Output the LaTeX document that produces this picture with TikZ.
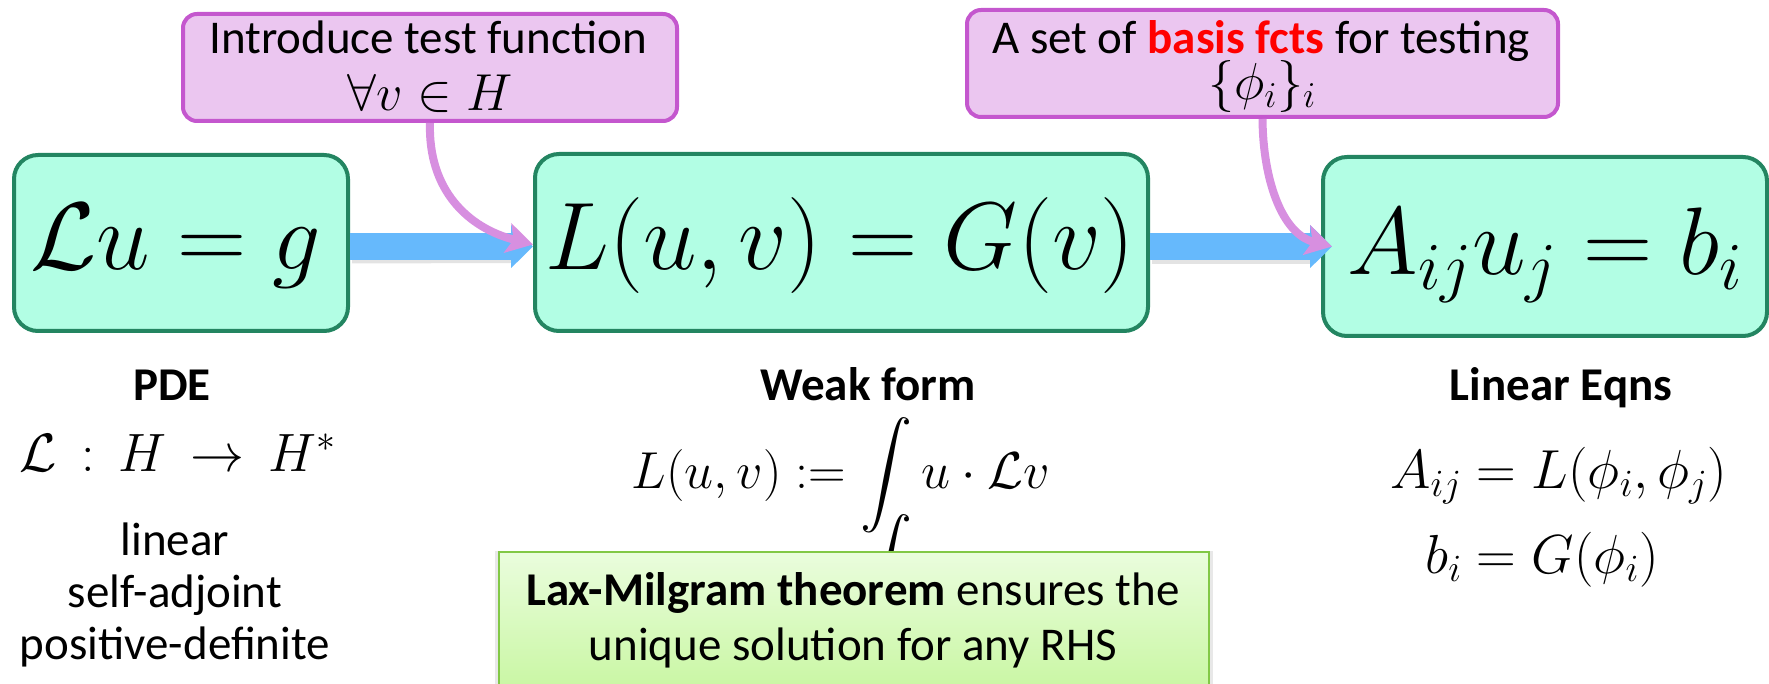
\RequirePackage{fix-cm}
\documentclass[tikz,border=0pt]{standalone}
\usepackage{amsmath}
\usepackage[no-math]{fontspec}
\setmainfont{Carlito}
\DeclareFontShape{OMX}{cmex}{m}{n}{<->cmex10}{}
\usetikzlibrary{arrows.meta,shadows}
\definecolor{greenfill}{RGB}{178,254,228}
\definecolor{greenborder}{RGB}{35,133,97}
\definecolor{purplefill}{RGB}{235,198,240}
\definecolor{purpleborder}{RGB}{196,87,206}
\definecolor{flowblue}{RGB}{102,185,252}
\definecolor{hintpink}{RGB}{215,143,224}
\definecolor{basisred}{RGB}{255,0,0}
\definecolor{lmtop}{RGB}{234,253,221}
\definecolor{lmbottom}{RGB}{198,246,158}
\definecolor{lmborder}{RGB}{130,200,70}
\begin{document}
\begin{tikzpicture}[x=1pt,y=-1pt,
  gbox/.style={draw=greenborder,fill=greenfill,line width=4pt,rounded corners=24pt,inner sep=0pt},
  pbox/.style={draw=purpleborder,fill=purplefill,line width=4pt,rounded corners=14pt,inner sep=0pt},
  txt/.style={inner sep=0pt,font=\fontsize{47}{54}\selectfont},
  head/.style={inner sep=0pt,font=\fontsize{47}{54}\selectfont\bfseries},
  bigmath/.style={inner sep=0pt,font=\fontsize{96}{100}\selectfont},
  midmath/.style={inner sep=0pt,font=\fontsize{52}{60}\selectfont},
  eqmath/.style={inner sep=0pt,font=\fontsize{55}{60}\selectfont},
  flow/.style={draw=flowblue,line width=27pt,-{Triangle[length=22pt,width=42pt]}},
  flowshadow/.style={draw=black,opacity=.11,line width=27pt},
  hint/.style={draw=hintpink,line width=8pt,-{Stealth[length=26pt,width=30pt,inset=6pt]}},
  lmbox/.style={draw=lmborder,line width=2pt,top color=lmtop,bottom color=lmbottom,inner sep=0pt,
    drop shadow={opacity=.18,shadow xshift=0pt,shadow yshift=0pt,shadow scale=1.012}},
]
\clip (0,0) rectangle (1769,684);

% main boxes
\node[gbox,minimum width=334pt,minimum height=176pt] (g1) at (181,243) {};
\node[gbox,minimum width=613pt,minimum height=177pt] (g2) at (841.5,242.5) {};
\node[gbox,minimum width=444pt,minimum height=179pt] (g3) at (1545,246.5) {};

% callout boxes
\node[pbox,minimum width=494pt,minimum height=107pt] (p1) at (430,67.5) {};
\node[pbox,minimum width=591pt,minimum height=107pt] (p2) at (1262.5,63.5) {};

% big formulas
\node[bigmath,anchor=base] (t1) at (176,270) {$\mathcal{L}u = g$};
\node[bigmath,anchor=base] (t2) at (840,270) {$L(u,v) = G(v)$};
\node[bigmath,anchor=base] (t3) at (1545,275) {$A_{ij}u_j = b_i$};

% callout texts
\node[txt,anchor=base] (p1a) at (428,54) {Introduce test function};
\node[midmath,anchor=base] (p1b) at (430,111) {$\forall v\in H$};
\node[txt,anchor=base] (p2a) at (1261,54) {A set of \textcolor{basisred}{\textbf{basis fcts}} for testing};
\node[midmath,anchor=base] (p2b) at (1262,100) {$\{\phi_i\}_i$};

% flow arrows
\draw[flowshadow] ([xshift=2pt,yshift=-7pt]g1.east) -- ([xshift=-22pt,yshift=-7pt]g2.west);
\draw[flowshadow] ([xshift=2pt,yshift=-8pt]g2.east) -- ([xshift=-11pt,yshift=-4pt]g3.west);
\draw[flow] ([yshift=-3.5pt]g1.east) -- ([yshift=-4pt]g2.west);
\draw[flow] ([yshift=-4pt]g2.east) -- ([xshift=11pt]g3.west);

% hint arrows
\draw[hint] (p1.south) .. controls (428,190) and (468,228) .. ([yshift=-2pt]g2.west);
\draw[hint] (p2.south) .. controls (1263,180) and (1282,234) .. ([xshift=11pt]g3.west);

% column 1
\node[head,anchor=base] (h1) at (172,400) {PDE};
\node[midmath,font=\fontsize{54}{60}\selectfont,anchor=base] (m1) at (178,471) {$\mathcal{L}\,:\,H\,\to\,H^*$};
\node[txt,anchor=base] (d1) at (175,555) {linear};
\node[txt,anchor=base] (d2) at (175,607) {self-adjoint};
\node[txt,anchor=base] (d3) at (175,659) {positive-definite};

% column 2
\node[head,anchor=base] (h2) at (868,400) {Weak form};
\node[midmath,anchor=base] (m2) at (841,488) {$\displaystyle L(u,v) := \int u\cdot\mathcal{L}v$};
\node[midmath,anchor=base] (m2b) at (886,585) {$\displaystyle\int$};
\node[lmbox,minimum width=710pt,minimum height=150pt,anchor=north west] (lm) at (498,551) {};
\node[txt,anchor=base] (lm1) at (853,605) {\textbf{Lax-Milgram theorem} ensures the};
\node[txt,anchor=base] (lm2) at (853,660) {unique solution for any RHS};

% column 3
\node[head,anchor=base] (h3) at (1561,400) {Linear Eqns};
\node[eqmath,anchor=base west] (e1) at (1390,488) {$A_{ij} = L(\phi_i,\phi_j)$};
\node[eqmath,anchor=base west] (e2) at (1390,573) {$\phantom{A_{ij}}\llap{$b_i$} = G(\phi_i)$};
\end{tikzpicture}
\end{document}
